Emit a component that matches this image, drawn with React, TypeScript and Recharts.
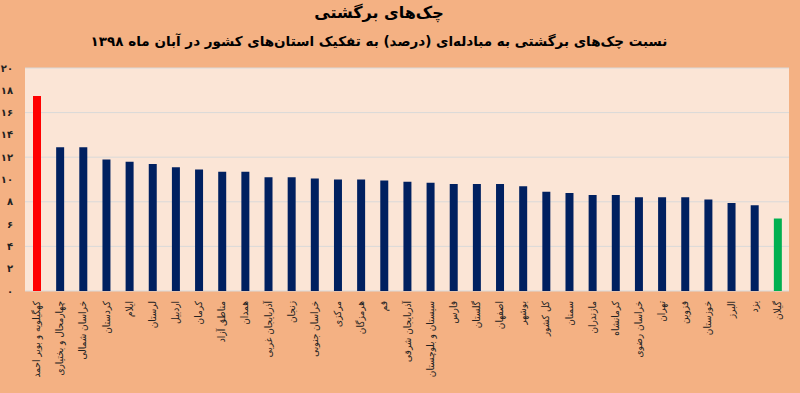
import { Bar, BarChart, CartesianGrid, Cell, XAxis, YAxis } from "recharts"

// استان‌ها به ترتیب نمودار
const provinces = [
  "کهگیلویه و بویر احمد",
  "چهارمحال و بختیاری",
  "خراسان شمالی",
  "کردستان",
  "ایلام",
  "لرستان",
  "اردبیل",
  "کرمان",
  "مناطق آزاد",
  "همدان",
  "آذربایجان غربی",
  "زنجان",
  "خراسان جنوبی",
  "مرکزی",
  "هرمزگان",
  "قم",
  "آذربایجان شرقی",
  "سیستان و بلوچستان",
  "فارس",
  "گلستان",
  "اصفهان",
  "بوشهر",
  "کل کشور",
  "سمنان",
  "مازندران",
  "کرمانشاه",
  "خراسان رضوی",
  "تهران",
  "قزوین",
  "خوزستان",
  "البرز",
  "یزد",
  "گیلان",
]

// نسبت چک برگشتی (درصد)
const ratios = [
  17.5, 12.9, 12.9, 11.8, 11.6, 11.4, 11.1, 10.9, 10.7, 10.7, 10.2, 10.2, 10.1, 10.0, 10.0, 9.9, 9.8,
  9.7, 9.6, 9.6, 9.6, 9.4, 8.9, 8.8, 8.6, 8.6, 8.4, 8.4, 8.4, 8.2, 7.9, 7.7, 6.5,
]

const yTicks = [0, 2, 4, 6, 8, 10, 12, 14, 16, 18, 20]

const data = provinces.map((name, i) => ({ name, value: ratios[i] }))

const faDigits = (n: number) => String(n).replace(/\d/g, (d) => "۰۱۲۳۴۵۶۷۸۹"[Number(d)])

const barColor = (i: number) => (i === 0 ? "#FF0000" : i === provinces.length - 1 ? "#00B050" : "#002060")

const FONT = "'DejaVu Sans', sans-serif"
const LABEL_FONT = "'DejaVu Sans Condensed', 'DejaVu Sans', sans-serif"

function XTick(props: any) {
  const { x, y, payload } = props
  return (
    <text
      x={x}
      y={y}
      transform={`rotate(-90, ${x}, ${y})`}
      textAnchor="end"
      dominantBaseline="central"
      fontSize={10}
      fill="#222"
      fontFamily={LABEL_FONT}
    >
      {payload.value}
    </text>
  )
}

export default function App() {
  return (
    <div
      style={{
        position: "fixed",
        left: 0,
        top: 0,
        width: 800,
        height: 393,
        background: "#F4B183",
        fontFamily: FONT,
      }}
    >
      <div
        style={{
          position: "absolute",
          left: 0,
          width: 758,
          top: 3,
          textAlign: "center",
          direction: "rtl",
          fontSize: 16,
          fontWeight: "bold",
          color: "#000",
        }}
      >
        چک‌های برگشتی
      </div>
      <div
        style={{
          position: "absolute",
          left: 0,
          width: 758,
          top: 33,
          textAlign: "center",
          direction: "rtl",
          fontSize: 13.5,
          fontWeight: "bold",
          color: "#000",
        }}
      >
        نسبت چک‌های برگشتی به مبادله‌ای (درصد) به تفکیک استان‌های کشور در آبان ماه ۱۳۹۸
      </div>
      <div style={{ position: "absolute", left: 0, top: 0 }}>
        <BarChart width={800} height={393} data={data} margin={{ top: 68, right: 11, bottom: 0, left: 0 }}>
          <CartesianGrid vertical={false} stroke="#D9D9D9" fill="#FBE5D6" />
          <XAxis
            dataKey="name"
            interval={0}
            height={102}
            axisLine={false}
            tickLine={false}
            tick={<XTick />}
            tickMargin={4}
          />
          <YAxis
            width={25}
            domain={[0, 20]}
            ticks={yTicks}
            axisLine={false}
            tickLine={false}
            tickSize={0}
            tickMargin={12}
            tickFormatter={faDigits}
            tick={{ fontSize: 10, fontWeight: "bold", fill: "#222", fontFamily: FONT }}
          />
          <Bar dataKey="value" barSize={8} isAnimationActive={false}>
            {data.map((_, i) => (
              <Cell key={i} fill={barColor(i)} />
            ))}
          </Bar>
        </BarChart>
      </div>
    </div>
  )
}
